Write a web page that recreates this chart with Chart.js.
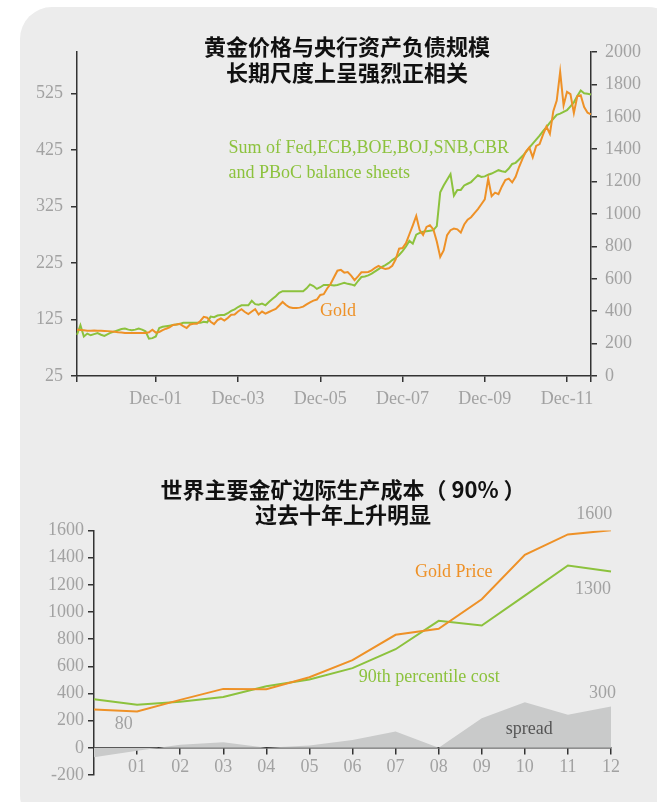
<!DOCTYPE html>
<html>
<head>
<meta charset="utf-8">
<script src="https://cdn.jsdelivr.net/npm/chart.js@4/dist/chart.umd.min.js"></script>
<style>
  body { margin: 0; width: 657px; height: 802px; background: #fff; position: relative; overflow: hidden; }
  .panel { position: absolute; left: 20px; top: 7px; width: 660px; height: 820px; background: #ececec; border-radius: 32px; }
  canvas { position: absolute; left: 0; }
  .title { position: absolute; text-align: center; font-family: "Noto Sans CJK SC", sans-serif; font-weight: 700; font-size: 22px; color: #111; white-space: nowrap; }
</style>
</head>
<body>
<div class="panel"></div>
<canvas id="top" width="657" height="420" style="top:0"></canvas>
<canvas id="bottom" width="657" height="382" style="top:420px"></canvas>
<div class="title" style="left:147px;width:400px;top:32px;line-height:26px">黄金价格与央行资产负债规模<br>长期尺度上呈强烈正相关</div>
<div class="title" style="left:143px;width:400px;top:476px;line-height:25px">世界主要金矿边际生产成本（ 90% ）<br>过去十年上升明显</div>
<script>
// ---- top chart: monthly, Jan-00 .. Jul-12 ----
const monthNames = ["Jan", "Feb", "Mar", "Apr", "May", "Jun", "Jul", "Aug", "Sep", "Oct", "Nov", "Dec"];
const months = [];
for (let y = 0; y <= 12; y++) {
  for (let m = 0; m < 12; m++) {
    if (y === 12 && m > 6) break;
    months.push(monthNames[m] + "-" + String(y).padStart(2, "0"));
  }
}

// gold price, USD/oz (right axis)
const goldPrice = [
  286, 284, 282, 280, 280, 281, 280, 279, 278, 277, 275, 273,
  270, 268, 266, 265, 265, 265, 265, 265, 265, 270, 286, 268,
  272, 283, 292, 300, 315, 318, 322, 308, 296, 318, 323, 323,
  340, 365, 360, 335, 320, 345, 355, 342, 358, 378, 379, 398,
  412, 395, 382, 398, 412, 380, 398, 385, 395, 405, 414, 435,
  457, 438, 424, 420, 420, 422, 428, 442, 455, 465, 472, 500,
  505, 540, 568, 610, 650, 655, 638, 642, 620, 592, 615, 640,
  641, 642, 652, 668, 680, 668, 660, 665, 680, 720, 786, 790,
  820, 875, 930, 988, 900, 870, 920, 930, 905, 830, 735, 775,
  870, 900, 910, 905, 885, 935, 965, 980, 1005, 1030, 1060, 1090,
  1218, 1110, 1132, 1122, 1170, 1210, 1218, 1195, 1230, 1290, 1340, 1385,
  1410, 1350, 1420, 1432, 1490, 1540, 1495, 1635, 1700, 1877, 1671, 1754,
  1740, 1623, 1726, 1733, 1660, 1625, 1615
];

// sum of central bank balance sheets (left axis)
const cbBalance = [
  98, 115, 95, 100, 97, 99, 101, 98, 96, 99, 102, 104,
  106, 108, 109, 107, 106, 107, 109, 107, 104, 91, 92, 95,
  110, 112, 113, 114, 115, 116, 117, 119, 119, 119, 119, 119,
  119, 121, 120, 130, 129, 132, 133, 133, 136, 140, 143, 147,
  150, 150, 150, 158, 152, 151, 153, 150, 156, 161, 166, 172,
  175, 175, 175, 175, 175, 175, 175, 180, 187, 184, 179, 182,
  186, 186, 186, 185, 186, 188, 190, 188, 187, 185, 193, 200,
  201, 203, 206, 210, 214, 218, 221, 225, 230, 234, 239, 246,
  254, 264, 259, 275, 278, 280, 281, 282, 283, 290, 350, 362,
  372, 382, 344, 354, 354, 362, 365, 368, 374, 380, 377, 378,
  381, 383, 386, 389, 387, 386, 392, 400, 402, 408, 414, 421,
  429, 436, 443, 450, 458, 465, 473, 480, 487, 489, 492, 495,
  502, 509, 520, 530, 525, 524, 523
];

const leftTicks = [25, 125, 225, 325, 425, 525];
const xTickIndex = [0, 23, 47, 71, 95, 119, 143, 150];
const xTickText = ["", "Dec-01", "Dec-03", "Dec-05", "Dec-07", "Dec-09", "Dec-11", ""];

// ---- bottom chart: yearly ----
const years = ["00", "01", "02", "03", "04", "05", "06", "07", "08", "09", "10", "11", "12"];
const goldAnnual = [282, 267, 353, 434, 432, 520, 645, 832, 876, 1094, 1421, 1571, 1602];
const cost90 = [358, 317, 339, 375, 454, 503, 587, 726, 935, 901, 1121, 1342, 1298];
const spread = [-70, -22, 22, 42, 0, 18, 57, 120, 0, 218, 336, 243, 304];

const ORANGE = "#ee9127";
const GREEN = "#8cc23d";
const TICK_GREY = "#a2a2a2";
const AXIS = "#333";
const serif = "'Liberation Serif', serif";

const notesPlugin = {
  id: "notes",
  afterDatasetsDraw(chart, args, opts) {
    const ctx = chart.ctx;
    ctx.save();
    (opts.items || []).forEach((n) => {
      const px = chart.scales.x.getPixelForValue(n.x);
      const py = chart.scales[n.axis].getPixelForValue(n.y);
      ctx.font = "18px " + serif;
      ctx.fillStyle = n.color;
      ctx.textAlign = n.align || "center";
      ctx.textBaseline = "middle";
      ctx.fillText(n.text, px, py);
    });
    ctx.restore();
  },
};

const gridOpts = { drawOnChartArea: false, drawTicks: true, tickLength: 6, color: AXIS, lineWidth: 1.5 };
const borderOpts = { color: AXIS, width: 1.5 };
const tickFont = { family: serif, size: 18 };
const plain = (v) => String(v);

new Chart(document.getElementById("top"), {
  type: "line",
  data: {
    labels: months,
    datasets: [
      { label: "Gold", data: goldPrice, yAxisID: "yR", borderColor: ORANGE, borderWidth: 2, pointRadius: 0, tension: 0 },
      { label: "Balance sheets", data: cbBalance, yAxisID: "yL", borderColor: GREEN, borderWidth: 2, pointRadius: 0, tension: 0 },
    ],
  },
  options: {
    responsive: false,
    animation: false,
    layout: { padding: { top: 52, left: 0, right: 0, bottom: 0 } },
    plugins: {
      legend: { display: false },
      tooltip: { enabled: false },
      notes: {
        items: [
          { text: "Sum of Fed,ECB,BOE,BOJ,SNB,CBR", x: 44.2, y: 427, axis: "yL", color: GREEN, align: "left" },
          { text: "and PBoC balance sheets", x: 44.2, y: 383, axis: "yL", color: GREEN, align: "left" },
          { text: "Gold", x: 76.2, y: 401, axis: "yR", color: ORANGE },
        ],
      },
    },
    scales: {
      x: {
        grid: gridOpts,
        border: borderOpts,
        afterBuildTicks: (s) => { s.ticks = xTickIndex.map((v) => ({ value: v })); },
        afterFit: (s) => { s.height = 44; },
        ticks: {
          autoSkip: false, maxRotation: 0, padding: 6, color: TICK_GREY, font: tickFont,
          callback: (v) => xTickText[xTickIndex.indexOf(v)] || "",
        },
      },
      yL: {
        position: "left", min: 25, max: 598,
        grid: gridOpts, border: borderOpts,
        afterBuildTicks: (s) => { s.ticks = leftTicks.map((v) => ({ value: v })); },
        afterFit: (s) => { s.width = 77; },
        ticks: { padding: 8, color: TICK_GREY, font: tickFont, callback: plain },
      },
      yR: {
        position: "right", min: 0, max: 2000,
        grid: gridOpts, border: borderOpts,
        afterFit: (s) => { s.width = 66; },
        ticks: { stepSize: 200, padding: 8, color: TICK_GREY, font: tickFont, callback: plain },
      },
    },
  },
  plugins: [notesPlugin],
});

new Chart(document.getElementById("bottom"), {
  type: "line",
  data: {
    labels: years,
    datasets: [
      { label: "Gold Price", data: goldAnnual, borderColor: ORANGE, borderWidth: 2, pointRadius: 0, tension: 0 },
      { label: "90th percentile cost", data: cost90, borderColor: GREEN, borderWidth: 2, pointRadius: 0, tension: 0 },
      { label: "spread", data: spread, borderWidth: 0, pointRadius: 0, tension: 0, fill: "origin", backgroundColor: "#c9caca" },
    ],
  },
  options: {
    responsive: false,
    animation: false,
    layout: { padding: { top: 110.5, left: 0, right: 46, bottom: 27 } },
    plugins: {
      legend: { display: false },
      tooltip: { enabled: false },
      notes: {
        items: [
          { text: "1600", x: 12.03, y: 1720, axis: "y", color: TICK_GREY, align: "right" },
          { text: "1300", x: 12.0, y: 1169, axis: "y", color: TICK_GREY, align: "right" },
          { text: "300", x: 11.8, y: 402, axis: "y", color: TICK_GREY },
          { text: "80", x: 0.69, y: 176, axis: "y", color: TICK_GREY },
          { text: "Gold Price", x: 8.35, y: 1296, axis: "y", color: ORANGE },
          { text: "90th percentile cost", x: 7.78, y: 517, axis: "y", color: GREEN },
          { text: "spread", x: 10.1, y: 137, axis: "y", color: "#555" },
        ],
      },
    },
    scales: {
      x: {
        position: { y: 0 },
        z: 1,
        grid: gridOpts,
        border: borderOpts,
        ticks: {
          autoSkip: false, maxRotation: 0, padding: 3, color: TICK_GREY, font: tickFont,
          callback: (v, i) => (i === 0 ? "" : years[i]),
        },
      },
      y: {
        position: "left", min: -200, max: 1600,
        grid: gridOpts, border: borderOpts,
        afterFit: (s) => { s.width = 94; },
        ticks: { stepSize: 200, padding: 4, color: TICK_GREY, font: tickFont, callback: plain },
      },
    },
  },
  plugins: [notesPlugin],
});
</script>
</body>
</html>
